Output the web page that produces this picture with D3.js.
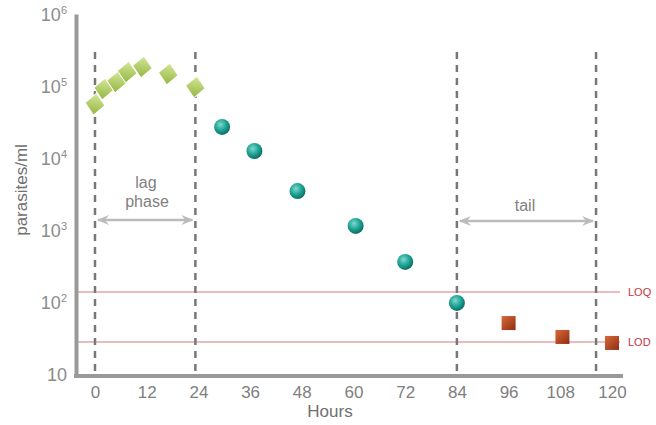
<!DOCTYPE html>
<html>
<head>
<meta charset="utf-8">
<script src="https://cdn.jsdelivr.net/npm/d3@7"></script>
<style>
  body { margin: 0; background: #fff; }
  text { font-family: "Liberation Sans", Arial, sans-serif; }
</style>
</head>
<body>
<svg id="chart" width="656" height="425"></svg>
<script>
// lag phase (diamonds)
var lagHours = [0, 2, 5, 7.5, 11, 17, 23.3];
var lagValues = [56000, 91000, 114000, 156000, 184000, 147000, 97000];
// clearance (circles)
var clearHours = [29.5, 37, 47, 60.5, 72, 84];
var clearValues = [27000, 12500, 3470, 1140, 360, 97];
// tail (squares)
var tailHours = [96, 108.5, 120];
var tailValues = [51, 32.7, 27];

var xTicks = [0, 12, 24, 36, 48, 60, 72, 84, 96, 108, 120];
var yTicks = [10, 100, 1000, 10000, 100000, 1000000];
var phaseHours = [0, 23.3, 84, 116.3];
var limits = [{ name: "LOQ", value: 138 }, { name: "LOD", value: 27.8 }];

var svg = d3.select("#chart");

var x = d3.scaleLinear().domain([0, 120]).range([95, 612]);
var y = d3.scaleLog().domain([10, 1000000]).range([374, 14]);

// gradients
var defs = svg.append("defs");
var gd = defs.append("linearGradient").attr("id", "gDia").attr("x1", 0).attr("y1", 0).attr("x2", 0).attr("y2", 1);
gd.append("stop").attr("offset", "0%").attr("stop-color", "#d6e89a");
gd.append("stop").attr("offset", "100%").attr("stop-color", "#93b541");
var gc = defs.append("radialGradient").attr("id", "gCir").attr("cx", "40%").attr("cy", "35%").attr("r", "65%");
gc.append("stop").attr("offset", "0%").attr("stop-color", "#7fd8cc");
gc.append("stop").attr("offset", "55%").attr("stop-color", "#1ea596");
gc.append("stop").attr("offset", "100%").attr("stop-color", "#0b6e63");
var gs = defs.append("linearGradient").attr("id", "gSq").attr("x1", 0).attr("y1", 0).attr("x2", 1).attr("y2", 1);
gs.append("stop").attr("offset", "0%").attr("stop-color", "#d8693a");
gs.append("stop").attr("offset", "100%").attr("stop-color", "#8e2e12");

// arrow heads
["aEnd", "aStart"].forEach(function(id, i) {
  defs.append("marker").attr("id", id)
    .attr("viewBox", "0 -6 12 12").attr("refX", 11).attr("refY", 0)
    .attr("markerWidth", 12).attr("markerHeight", 12)
    .attr("markerUnits", "userSpaceOnUse")
    .attr("orient", i == 0 ? "auto" : "auto-start-reverse")
    .append("path").attr("d", "M0,-5 L12,0 L0,5 L4,0 Z").attr("fill", "#bbbbbb");
});

// limit lines
svg.selectAll("line.limit").data(limits).enter().append("line")
  .attr("class", "limit")
  .attr("x1", 76).attr("x2", 620)
  .attr("y1", function(d) { return y(d.value); })
  .attr("y2", function(d) { return y(d.value); })
  .attr("stroke", "#e6a4a8").attr("stroke-width", 1.5);
svg.selectAll("text.limit").data(limits).enter().append("text")
  .attr("class", "limit")
  .attr("x", 628)
  .attr("y", function(d) { return y(d.value) + 4; })
  .attr("font-size", 11).attr("fill", "#c8363a")
  .text(function(d) { return d.name; });

// dashed phase lines
svg.selectAll("line.phase").data(phaseHours).enter().append("line")
  .attr("class", "phase")
  .attr("x1", function(d) { return x(d); }).attr("x2", function(d) { return x(d); })
  .attr("y1", 52).attr("y2", 372)
  .attr("stroke", "#777").attr("stroke-width", 2.5)
  .attr("stroke-dasharray", "7,6");

// arrows
function arrow(h0, h1, yy) {
  svg.append("line")
    .attr("x1", x(h0) + 3).attr("x2", x(h1) - 3)
    .attr("y1", yy).attr("y2", yy)
    .attr("stroke", "#bbbbbb").attr("stroke-width", 2.5)
    .attr("marker-start", "url(#aStart)").attr("marker-end", "url(#aEnd)");
}
arrow(phaseHours[0], phaseHours[1], 220);
arrow(phaseHours[2], phaseHours[3], 221);

svg.append("text").attr("x", 146).attr("y", 188).attr("text-anchor", "middle")
  .attr("font-size", 16).attr("fill", "#808080").text("lag");
svg.append("text").attr("x", 147).attr("y", 207).attr("text-anchor", "middle")
  .attr("font-size", 16).attr("fill", "#808080").text("phase");
svg.append("text").attr("x", 525).attr("y", 211).attr("text-anchor", "middle")
  .attr("font-size", 16).attr("fill", "#808080").text("tail");

// axes
var yAxis = d3.axisLeft(y).tickValues(yTicks).tickSize(0).tickFormat("");
var gy = svg.append("g").attr("transform", "translate(76,0)").call(yAxis);
gy.select(".domain").attr("stroke", "#999").attr("stroke-width", 4);

var xAxis = d3.axisBottom(x).tickValues(xTicks).tickSize(0).tickPadding(10);
var gx = svg.append("g").attr("transform", "translate(0,376)").call(xAxis);
gx.select(".domain").attr("d", "M74,0H623").attr("stroke", "#999").attr("stroke-width", 4);
gx.selectAll("text").attr("font-size", 17).attr("fill", "#808080")
  .attr("font-family", "Liberation Sans, Arial, sans-serif");

// y tick labels with superscripts
var yl = svg.selectAll("text.ytick").data(yTicks).enter().append("text")
  .attr("class", "ytick")
  .attr("x", 67)
  .attr("y", function(d) { return y(d) + 7; })
  .attr("text-anchor", "end")
  .attr("font-size", 18).attr("fill", "#8c8c8c");
yl.append("tspan").text("10");
yl.filter(function(d) { return d > 10; }).append("tspan")
  .attr("dy", -7).attr("font-size", 11)
  .text(function(d) { return Math.round(Math.log10(d)); });

// axis titles
svg.append("text").attr("transform", "translate(27,190) rotate(-90)")
  .attr("text-anchor", "middle").attr("font-size", 17).attr("fill", "#707070")
  .text("parasites/ml");
svg.append("text").attr("x", 330).attr("y", 417).attr("text-anchor", "middle")
  .attr("font-size", 17).attr("fill", "#707070").text("Hours");

// points
var lagData = d3.zip(lagHours, lagValues);
var clearData = d3.zip(clearHours, clearValues);
var tailData = d3.zip(tailHours, tailValues);

svg.selectAll("path.dia").data(lagData).enter().append("path")
  .attr("class", "dia")
  .attr("d", "M0,-11 L10,0 L0,11 L-10,0 Z")
  .attr("transform", function(d) { return "translate(" + x(d[0]) + "," + y(d[1]) + ") rotate(8)"; })
  .attr("fill", "url(#gDia)").attr("stroke", "#fff").attr("stroke-width", 1);

svg.selectAll("circle.cir").data(clearData).enter().append("circle")
  .attr("class", "cir")
  .attr("cx", function(d) { return x(d[0]); })
  .attr("cy", function(d) { return y(d[1]); })
  .attr("r", 8)
  .attr("fill", "url(#gCir)");

svg.selectAll("rect.sq").data(tailData).enter().append("rect")
  .attr("class", "sq")
  .attr("x", function(d) { return x(d[0]) - 7; })
  .attr("y", function(d) { return y(d[1]) - 7; })
  .attr("width", 14).attr("height", 14)
  .attr("fill", "url(#gSq)");
</script>
</body>
</html>
